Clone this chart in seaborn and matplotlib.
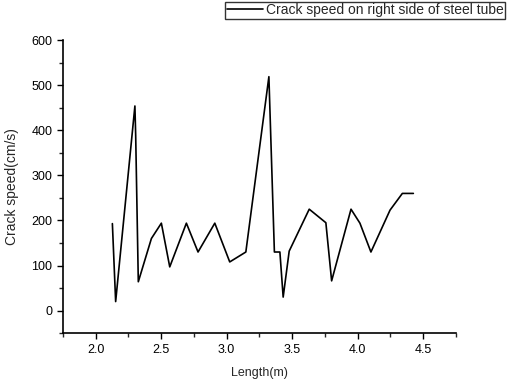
import numpy as np
import pandas as pd
import seaborn as sns
import matplotlib
matplotlib.use('Agg')
import matplotlib.pyplot as plt
from matplotlib.ticker import MultipleLocator

# crack speed readings
length_m = [2.128, 2.153, 2.300, 2.306, 2.326, 2.426, 2.502, 2.566, 2.693, 2.782,
            2.910, 3.024, 3.147, 3.323, 3.365, 3.407, 3.432, 3.478, 3.631, 3.758,
            3.802, 3.950, 4.018, 4.102, 4.248, 4.342, 4.426]
speed_cms = [193, 20, 454, 388, 64, 160, 194, 97, 194, 130,
             194, 108, 130, 519, 130, 130, 30, 132, 225, 195,
             66, 225, 194, 130, 223, 260, 260]

df = pd.DataFrame({'Length(m)': length_m, 'speed': speed_cms})

sns.set_style('ticks')
plt.rcParams['font.family'] = ['Liberation Sans', 'DejaVu Sans']

fig = plt.figure(figsize=(5.07, 3.79), dpi=100)
ax = fig.add_axes([0.124, 0.121, 0.775, 0.773])

sns.lineplot(data=df, x='Length(m)', y='speed', color='black', linewidth=1.2,
             sort=False, estimator=None, ax=ax,
             label='Crack speed on right side of steel tube', legend=False)

ax.set_xlim(1.75, 4.75)
ax.set_ylim(-50, 600)
ax.xaxis.set_major_locator(MultipleLocator(0.5))
ax.xaxis.set_minor_locator(MultipleLocator(0.25))
ax.yaxis.set_major_locator(MultipleLocator(100))
ax.yaxis.set_minor_locator(MultipleLocator(50))
ax.xaxis.set_major_formatter(matplotlib.ticker.FormatStrFormatter('%.1f'))
ax.tick_params(which='major', direction='out', length=4, width=1, labelsize=9, colors='black')
ax.tick_params(which='minor', direction='out', length=3, width=1)
for s in ['left', 'bottom']:
    ax.spines[s].set_linewidth(1.2)
    ax.spines[s].set_color('black')
ax.spines['top'].set_visible(False)
ax.spines['right'].set_visible(False)

ax.set_xlabel('Length(m)', fontsize=9, labelpad=8)
ax.set_ylabel('Crack speed(cm/s)', fontsize=10, labelpad=9)

h, l = ax.get_legend_handles_labels()
leg = fig.legend(h, l, loc='upper right', bbox_to_anchor=(0.997, 0.995),
                 frameon=True, fancybox=False, edgecolor='black', fontsize=10,
                 handlelength=2.6, handletextpad=0.25, borderpad=0.1,
                 borderaxespad=0)
leg.get_frame().set_linewidth(1.0)

fig.savefig('out.png', dpi=100)
